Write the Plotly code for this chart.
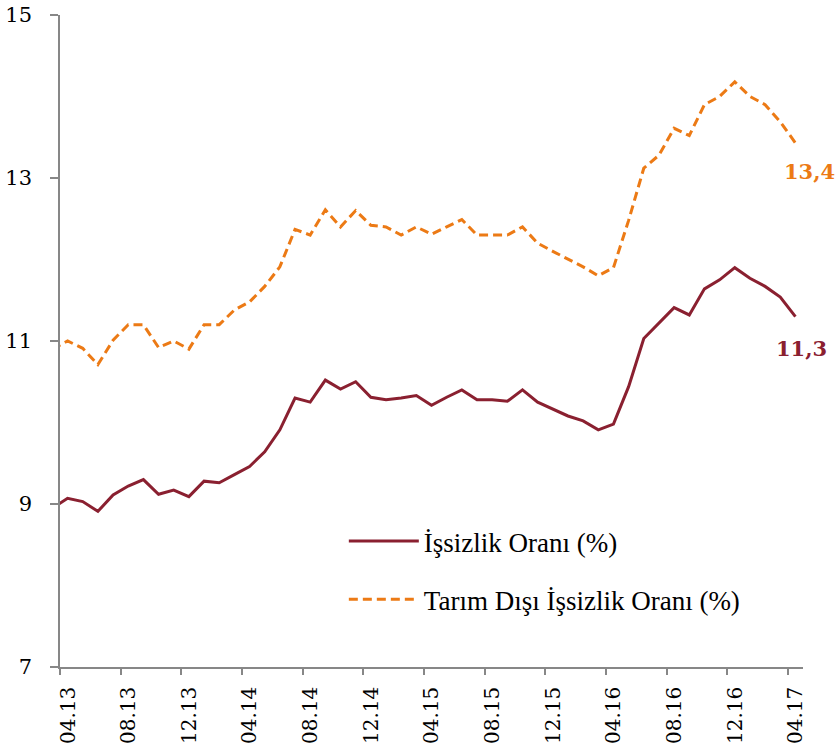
import plotly.graph_objects as go

# Monthly series, 03.13 ... 04.17 (03.13 lies just left of the axis start and is clipped)
months = ["03.13",
          "04.13", "05.13", "06.13", "07.13", "08.13", "09.13", "10.13", "11.13", "12.13",
          "01.14", "02.14", "03.14", "04.14", "05.14", "06.14", "07.14", "08.14", "09.14",
          "10.14", "11.14", "12.14", "01.15", "02.15", "03.15", "04.15", "05.15", "06.15",
          "07.15", "08.15", "09.15", "10.15", "11.15", "12.15", "01.16", "02.16", "03.16",
          "04.16", "05.16", "06.16", "07.16", "08.16", "09.16", "10.16", "11.16", "12.16",
          "01.17", "02.17", "03.17", "04.17"]

unemployment = [8.95,
                9.07, 9.03, 8.91, 9.11, 9.22, 9.30, 9.12, 9.17, 9.09,
                9.28, 9.26, 9.36, 9.46, 9.64, 9.91, 10.30, 10.25, 10.52,
                10.41, 10.50, 10.31, 10.28, 10.30, 10.33, 10.21, 10.31, 10.40,
                10.28, 10.28, 10.26, 10.40, 10.25, 10.16, 10.08, 10.02, 9.91,
                9.98, 10.44, 11.03, 11.22, 11.41, 11.32, 11.64, 11.75, 11.90,
                11.77, 11.67, 11.54, 11.30]

nonag_unemployment = [10.90,
                      11.00, 10.91, 10.71, 11.01, 11.20, 11.20, 10.92, 11.00, 10.90,
                      11.20, 11.20, 11.38, 11.48, 11.67, 11.91, 12.37, 12.30, 12.61,
                      12.40, 12.60, 12.42, 12.40, 12.30, 12.40, 12.31, 12.40, 12.49,
                      12.30, 12.30, 12.30, 12.40, 12.20, 12.10, 12.01, 11.91, 11.80,
                      11.90, 12.48, 13.12, 13.28, 13.61, 13.52, 13.90, 14.00, 14.18,
                      14.00, 13.90, 13.69, 13.43]

tick_labels = ["04.13", "08.13", "12.13", "04.14", "08.14", "12.14", "04.15",
               "08.15", "12.15", "04.16", "08.16", "12.16", "04.17"]
y_ticks = [7, 9, 11, 13, 15]

RED = "#8A2030"
ORANGE = "#EC7A15"
AXIS = "#878787"

# month index: 04.13 -> 0 ; points sit in the middle of their month
first = months.index("04.13")
xpos = [i - first + 0.5 for i in range(len(months))]
tick_pos = [months.index(t) - first for t in tick_labels]

fig = go.Figure()
fig.add_trace(go.Scatter(
    x=xpos, y=unemployment, mode="lines", name="İşsizlik Oranı (%)",
    line=dict(color=RED, width=3), legendgroup="a", hoverinfo="skip"))
fig.add_trace(go.Scatter(
    x=xpos, y=nonag_unemployment, mode="lines", name="Tarım Dışı İşsizlik Oranı (%)",
    line=dict(color=ORANGE, width=3, dash="9px,5px"), legendgroup="b", hoverinfo="skip"))

fmt = lambda v: f"{v:.1f}".replace(".", ",")
fig.add_annotation(x=xpos[-1], y=nonag_unemployment[-1], text=fmt(nonag_unemployment[-1]),
                   showarrow=False, xshift=14, yshift=-29,
                   font=dict(family="DejaVu Serif", size=21, color=ORANGE, weight="bold"))
fig.add_annotation(x=xpos[-1], y=unemployment[-1], text=fmt(unemployment[-1]),
                   showarrow=False, xshift=6, yshift=-32,
                   font=dict(family="DejaVu Serif", size=21, color=RED, weight="bold"))

fig.update_layout(
    width=838, height=753,
    margin=dict(l=60, r=35, t=15, b=86, autoexpand=False),
    paper_bgcolor="white", plot_bgcolor="white",
    showlegend=True,
    legend=dict(x=0.382, y=0.23, xanchor="left", yanchor="top",
                font=dict(family="Liberation Serif", size=27, color="black"),
                bgcolor="rgba(0,0,0,0)", traceorder="grouped", tracegroupgap=20,
                itemwidth=70),
    xaxis=dict(range=[0, 49], tickmode="array", tickvals=tick_pos, ticktext=tick_labels,
               tickangle=-90, ticks="outside", ticklen=6, tickcolor=AXIS, tickwidth=1.5,
               ticklabelshift=8, ticklabelstandoff=4, automargin=False,
               showline=True, linecolor=AXIS, linewidth=1.5, showgrid=False, zeroline=False,
               tickfont=dict(family="DejaVu Serif", size=20, color="black")),
    yaxis=dict(range=[7, 15], tickmode="array", tickvals=y_ticks, automargin=False,
               ticks="outside", ticklen=8, tickcolor=AXIS, tickwidth=1.5,
               ticklabelstandoff=14,
               showline=True, linecolor=AXIS, linewidth=1.5, showgrid=False, zeroline=False,
               tickfont=dict(family="DejaVu Serif", size=21, color="black")),
)

fig.write_html("out.html", config={"displayModeBar": False},
               post_script="document.body.style.margin='0px';document.body.style.overflow='hidden';")
